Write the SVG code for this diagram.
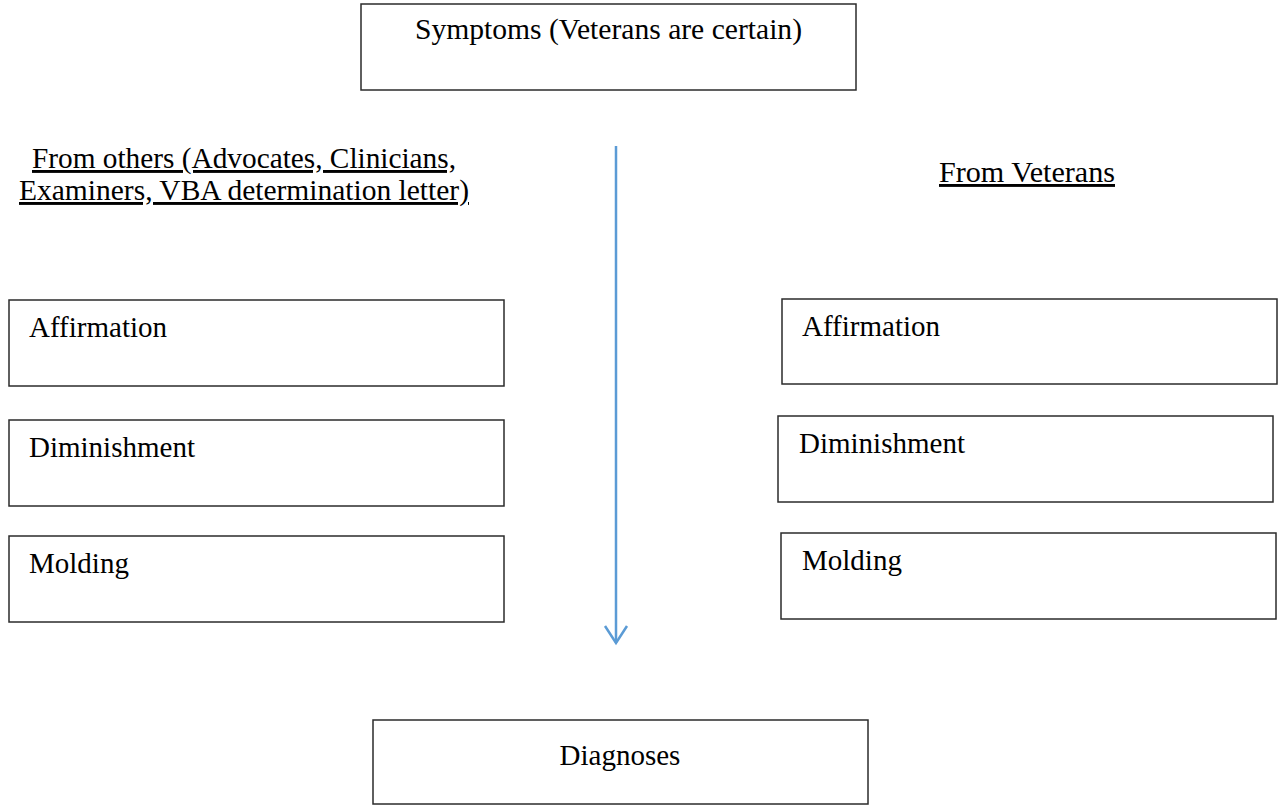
<svg xmlns="http://www.w3.org/2000/svg" width="1280" height="806" viewBox="0 0 1280 806">
<style>
.box{fill:#fff;stroke:#2b2b2b;stroke-width:1.5}
text{font-family:"Liberation Serif","Times New Roman",serif;font-size:29px;fill:#000}
.c{text-anchor:middle}
.u{text-decoration:underline}
.conn{stroke:#5B9BD5;stroke-width:2.5;fill:none}
</style>
<rect width="1280" height="806" fill="#fff"/>
<g id="symptoms"><rect class="box" x="361" y="4" width="495" height="86"/><text x="415" y="39" textLength="387" lengthAdjust="spacingAndGlyphs">Symptoms (Veterans are certain)</text></g>
<g id="from-others"><text class="u" x="32" y="168" textLength="424" lengthAdjust="spacingAndGlyphs">From others (Advocates, Clinicians,</text><text class="u" x="19" y="200" textLength="450" lengthAdjust="spacingAndGlyphs">Examiners, VBA determination letter)</text></g>
<g id="from-veterans"><text class="u" x="939" y="182" textLength="176" lengthAdjust="spacingAndGlyphs">From Veterans</text></g>
<g id="l-affirmation"><rect class="box" x="9" y="300" width="495" height="86"/><text x="29" y="337">Affirmation</text></g>
<g id="l-diminishment"><rect class="box" x="9" y="420" width="495" height="86"/><text x="29" y="457">Diminishment</text></g>
<g id="l-molding"><rect class="box" x="9" y="536" width="495" height="86"/><text x="29" y="573">Molding</text></g>
<g id="r-affirmation"><rect class="box" x="782" y="299" width="495" height="85"/><text x="802" y="336">Affirmation</text></g>
<g id="r-diminishment"><rect class="box" x="778" y="416" width="495" height="86"/><text x="799" y="453">Diminishment</text></g>
<g id="r-molding"><rect class="box" x="781" y="533" width="495" height="86"/><text x="802" y="570">Molding</text></g>
<g id="diagnoses"><rect class="box" x="373" y="720" width="495" height="84"/><text class="c" x="620" y="765">Diagnoses</text></g>
<g id="connectors"><line class="conn" x1="616" y1="146" x2="616" y2="643"/><polyline class="conn" points="605,626 616,643 627,626"/></g>
</svg>
